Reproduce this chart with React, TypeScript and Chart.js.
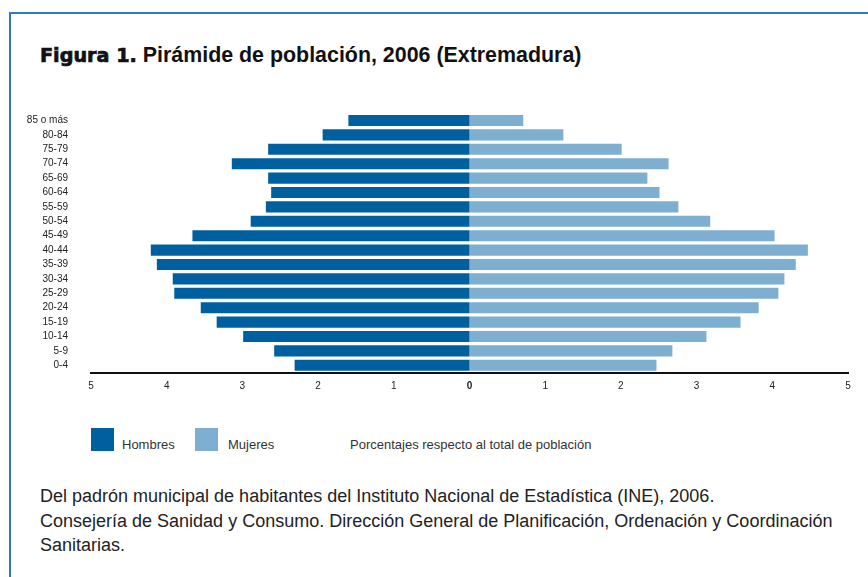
import React, { useEffect, useRef } from "react";
import { Chart, registerables } from "chart.js";

Chart.register(...registerables);

const ageGroups = [
  "85 o más", "80-84", "75-79", "70-74", "65-69", "60-64", "55-59", "50-54", "45-49",
  "40-44", "35-39", "30-34", "25-29", "20-24", "15-19", "10-14", "5-9", "0-4",
];
const hombres = [1.6, 1.94, 2.66, 3.14, 2.66, 2.62, 2.69, 2.89, 3.66, 4.21, 4.13, 3.92, 3.9, 3.55, 3.34, 2.99, 2.58, 2.31];
const mujeres = [0.71, 1.24, 2.01, 2.63, 2.35, 2.51, 2.76, 3.18, 4.03, 4.47, 4.31, 4.16, 4.08, 3.82, 3.58, 3.13, 2.68, 2.47];
const xTicks = [-5, -4, -3, -2, -1, 0, 1, 2, 3, 4, 5];

const MALE = "#00609f";
const FEMALE = "#7fafd0";
const FONT = "'Liberation Sans', Arial, Helvetica, sans-serif";

export default function App() {
  const ref = useRef<HTMLCanvasElement>(null);
  useEffect(() => {
    document.body.style.margin = "0";
    const chart = new Chart(ref.current!, {
      type: "bar",
      data: {
        labels: ageGroups,
        datasets: [
          { label: "Hombres", data: hombres.map((v) => -v), backgroundColor: MALE, barPercentage: 0.77, categoryPercentage: 1 },
          { label: "Mujeres", data: mujeres, backgroundColor: FEMALE, barPercentage: 0.77, categoryPercentage: 1 },
        ],
      },
      options: {
        indexAxis: "y",
        animation: false,
        responsive: false,
        maintainAspectRatio: false,
        layout: { padding: { top: 13.3, right: 20, left: 0, bottom: 0 } },
        plugins: { legend: { display: false }, tooltip: { enabled: false }, title: { display: false } },
        scales: {
          x: {
            stacked: true,
            min: -5,
            max: 5,
            afterBuildTicks: (s: any) => { s.ticks = xTicks.map((v) => ({ value: v })); },
            afterFit: (s: any) => { s.height = 27.5; },
            grid: { display: false, drawTicks: false },
            border: { display: true, color: "#111", width: 2 },
            ticks: {
              padding: 8,
              color: "#222",
              callback: (v: any) => String(Math.abs(Number(v))),
              font: (c: any) => ({ family: FONT, size: 10, weight: c.tick && c.tick.value === 0 ? "bold" : "normal" }),
            },
          },
          y: {
            stacked: true,
            afterFit: (s: any) => { s.width = 91; s.paddingTop = 0; s.paddingBottom = 0; },
            grid: { display: false, drawTicks: false },
            border: { display: false },
            ticks: { padding: 23, color: "#222", autoSkip: false, font: { family: FONT, size: 10 } },
          },
        },
      },
    });
    return () => chart.destroy();
  }, []);

  const abs = (s: React.CSSProperties): React.CSSProperties => ({ position: "absolute", ...s });

  return (
    <div style={{ position: "relative", width: 868, height: 577, background: "#fff", overflow: "hidden", fontFamily: FONT }}>
      <div style={abs({ left: 9, top: 12, right: -5, bottom: -5, borderTop: "2px solid #2f7bbf", borderLeft: "2px solid #2f7bbf" })} />
      <div style={abs({ left: 40, top: 42, whiteSpace: "nowrap", fontSize: 21.4, lineHeight: "26px", color: "#111" })}>
        <span style={{ fontFamily: "'DejaVu Sans', sans-serif", fontWeight: 900, fontSize: 19.2, WebkitTextStroke: "0.7px #111" }}>Figura 1.</span>
        <span style={{ fontWeight: "bold" }}> Pirámide de población, 2006 (Extremadura)</span>
      </div>
      <canvas ref={ref} width={868} height={300} style={abs({ left: 0, top: 100, width: 868, height: 300 })} />
      <div style={abs({ left: 91, top: 428, width: 23, height: 23, background: MALE })} />
      <div style={abs({ left: 122, top: 437, fontSize: 13, lineHeight: "16px", color: "#333" })}>Hombres</div>
      <div style={abs({ left: 195, top: 428, width: 23, height: 23, background: FEMALE })} />
      <div style={abs({ left: 228, top: 437, fontSize: 13, lineHeight: "16px", color: "#333" })}>Mujeres</div>
      <div style={abs({ left: 350, top: 437, fontSize: 13, lineHeight: "16px", color: "#333", whiteSpace: "nowrap" })}>Porcentajes respecto al total de población</div>
      <div style={abs({ left: 40, top: 484, fontSize: 18, lineHeight: "24.5px", color: "#222", whiteSpace: "nowrap" })}>
        Del padrón municipal de habitantes del Instituto Nacional de Estadística (INE), 2006.<br />
        Consejería de Sanidad y Consumo. Dirección General de Planificación, Ordenación y Coordinación<br />
        Sanitarias.
      </div>
    </div>
  );
}
